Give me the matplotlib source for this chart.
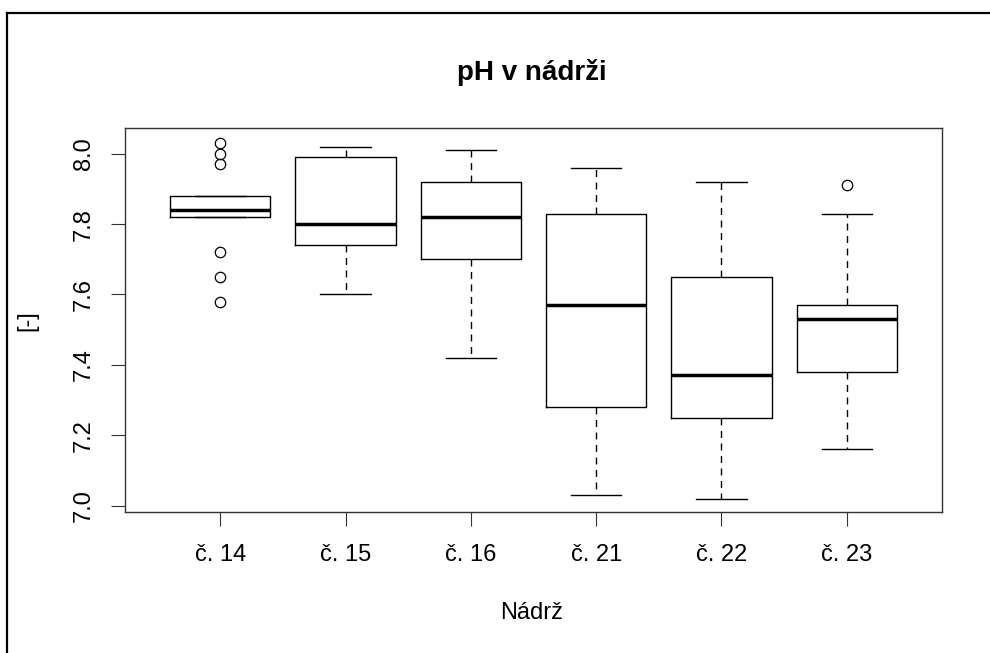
import matplotlib
matplotlib.use("Agg")
import matplotlib.pyplot as plt
from matplotlib.lines import Line2D

plt.rcParams['font.family'] = ['Liberation Sans', 'DejaVu Sans']
plt.rcParams['lines.scale_dashes'] = False

# data (pH per reservoir)
labels = ["č. 14", "č. 15", "č. 16", "č. 21", "č. 22", "č. 23"]
whislo = [7.82, 7.60, 7.42, 7.03, 7.02, 7.16]
q1 = [7.82, 7.74, 7.70, 7.28, 7.25, 7.38]
med = [7.84, 7.80, 7.82, 7.57, 7.37, 7.53]
q3 = [7.88, 7.99, 7.92, 7.83, 7.65, 7.57]
whishi = [7.88, 8.02, 8.01, 7.96, 7.92, 7.83]
fliers = [[8.03, 8.00, 7.97, 7.72, 7.65, 7.58], [], [], [], [], [7.91]]

stats = []
for i in range(len(labels)):
    stats.append(dict(label=labels[i], whislo=whislo[i], q1=q1[i], med=med[i],
                      q3=q3[i], whishi=whishi[i], fliers=fliers[i]))

W, H = 990, 653
fig = plt.figure(figsize=(W / 100, H / 100), dpi=100)
ax = fig.add_axes([125 / W, 1 - 512 / H, (942 - 125) / W, (512 - 128) / H])

ax.bxp(stats, positions=range(1, len(labels) + 1), widths=0.8, capwidths=0.4,
       boxprops=dict(color='black', linewidth=1),
       medianprops=dict(color='black', linewidth=2.5, solid_capstyle='butt'),
       whiskerprops=dict(color='black', linewidth=1, linestyle=(0, (5, 4))),
       capprops=dict(color='black', linewidth=1),
       flierprops=dict(marker='o', markerfacecolor='none', markeredgecolor='black',
                       markersize=7.5, markeredgewidth=0.9))

ax.set_xlim(0.24, 6.76)
ax.set_ylim(6.982, 8.073)
ax.set_yticks([7.0, 7.2, 7.4, 7.6, 7.8, 8.0])
ax.set_yticklabels(["7.0", "7.2", "7.4", "7.6", "7.8", "8.0"], rotation=90, va='center')
ax.tick_params(axis='both', length=10, width=0.8, labelsize=17, color='#333333')
ax.tick_params(axis='x', pad=13)
ax.tick_params(axis='y', pad=11.5)
for s in ax.spines.values():
    s.set_linewidth(1)
    s.set_color('#333333')

fig.text(532 / W, 1 - 72 / H, "pH v nádrži", ha='center', va='center',
         fontsize=20, fontweight='bold')
fig.text(532 / W, 1 - 613 / H, "Nádrž", ha='center', va='center', fontsize=17)
fig.text(27 / W, 1 - 321 / H, "[-]", ha='center', va='center', fontsize=17, rotation=90)

# outer frame of the screenshot (only top and left edges visible)
fig.add_artist(Line2D([7 / W, 7 / W], [0, 1 - 13 / H], transform=fig.transFigure,
                      color='black', linewidth=1.6))
fig.add_artist(Line2D([7 / W, 1], [1 - 13 / H, 1 - 13 / H], transform=fig.transFigure,
                      color='black', linewidth=1.6))

fig.savefig("out.png", dpi=100)
